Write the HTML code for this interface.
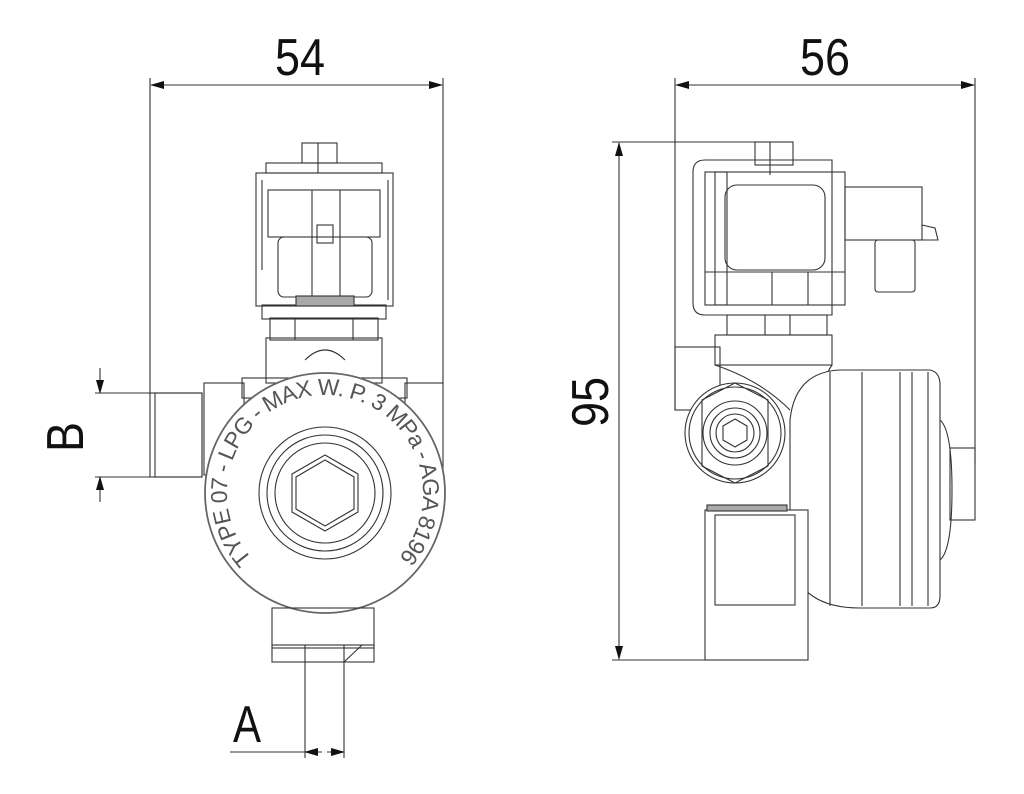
<!DOCTYPE html>
<html><head><meta charset="utf-8"><style>html,body{margin:0;padding:0;background:#fff}svg{display:block}</style></head>
<body>
<svg width="1024" height="794" viewBox="0 0 1024 794" xmlns="http://www.w3.org/2000/svg">
<defs>
<marker id="ar" markerWidth="14" markerHeight="8" refX="13" refY="4" orient="auto-start-reverse" markerUnits="userSpaceOnUse"><path d="M0,0 L14,4 L0,8 z" fill="#111"/></marker>
<path id="ring" d="M 255.7,562.3 A 98,98 0 1 1 394.3,562.3"/>
</defs>
<g fill="none" stroke="#333" stroke-width="1.1">
<line x1="150" y1="78" x2="150" y2="393"/>
<line x1="443" y1="78" x2="443" y2="385"/>
<line x1="151" y1="85" x2="442" y2="85" marker-start="url(#ar)" marker-end="url(#ar)"/>
<line x1="95" y1="393" x2="150" y2="393"/>
<line x1="95" y1="477" x2="152" y2="477"/>
<line x1="100" y1="368" x2="100" y2="393" marker-end="url(#ar)"/>
<line x1="100" y1="502" x2="100" y2="477" marker-end="url(#ar)"/>
<line x1="305" y1="662" x2="305" y2="758"/>
<line x1="344" y1="662" x2="344" y2="758"/>
<line x1="230" y1="752" x2="305" y2="752"/>
<line x1="305" y1="752" x2="322" y2="752" marker-start="url(#ar)"/>
<line x1="327" y1="752" x2="344" y2="752" marker-end="url(#ar)"/>
<rect x="150" y="393" width="52" height="84"/>
<rect x="155" y="393" width="47" height="84"/>
<rect x="204" y="383" width="40" height="92"/>
<rect x="405" y="383" width="38" height="92"/>
<rect x="242" y="378" width="165" height="20"/>
<rect x="266" y="338" width="116" height="45"/>
<path d="M305,360 Q325,340 345,360"/>
<rect x="270" y="318" width="108" height="22"/>
<line x1="295" y1="318" x2="295" y2="340"/><line x1="353" y1="318" x2="353" y2="340"/>
<rect x="262" y="305" width="124" height="14"/>
<rect x="256" y="173" width="137" height="133"/>
<rect x="266" y="163" width="116" height="10"/>
<rect x="302" y="143" width="35" height="20"/>
<line x1="318" y1="143" x2="318" y2="173"/>
<rect x="268" y="190" width="112" height="47"/>
<rect x="278" y="237" width="94" height="60" rx="6"/>
<line x1="312" y1="190" x2="312" y2="297"/><line x1="340" y1="190" x2="340" y2="297"/>
<rect x="317" y="225" width="16" height="18"/>
<line x1="262" y1="180" x2="262" y2="270"/><line x1="388" y1="180" x2="388" y2="300"/>
<rect x="296" y="296" width="58" height="10" fill="#aaa"/>
<circle cx="325" cy="493" r="120" fill="#fff" stroke-width="1.8" stroke="#666"/>
<circle cx="325" cy="493" r="66"/>
<circle cx="325" cy="493" r="58"/>
<circle cx="325" cy="493" r="50"/>
<polygon points="325,455 358,474 358,512 325,531 292,512 292,474"/>
<polygon points="325,460 354,477 354,509 325,526 296,509 296,477"/>
<rect x="272" y="608" width="102" height="40"/>
<rect x="272" y="645" width="102" height="17"/>
<line x1="305" y1="645" x2="305" y2="662"/><line x1="344" y1="645" x2="344" y2="662"/>
<line x1="344" y1="662" x2="362" y2="645"/>
<line x1="675" y1="78" x2="675" y2="410"/>
<line x1="975" y1="78" x2="975" y2="465"/>
<line x1="676" y1="85" x2="974" y2="85" marker-start="url(#ar)" marker-end="url(#ar)"/>
<line x1="612" y1="142" x2="770" y2="142"/>
<line x1="612" y1="660" x2="705" y2="660"/>
<line x1="619" y1="143" x2="619" y2="659" marker-start="url(#ar)" marker-end="url(#ar)"/>
<rect x="755" y="142" width="38" height="23"/>
<line x1="770" y1="142" x2="770" y2="175"/>
<path d="M705,160 H832 V315 H705 Q693,315 693,303 V172 Q693,160 705,160 Z"/>
<rect x="705" y="172" width="140" height="133"/>
<rect x="715" y="172" width="12" height="133"/>
<rect x="725" y="185" width="100" height="85" rx="12"/>
<line x1="705" y1="272" x2="845" y2="272"/>
<line x1="772" y1="272" x2="772" y2="305"/><line x1="808" y1="272" x2="808" y2="305"/>
<rect x="845" y="187" width="77" height="53"/>
<rect x="875" y="240" width="40" height="52" rx="3"/>
<path d="M922,225 L935,228 L938,240 L922,240"/>
<rect x="727" y="315" width="100" height="20"/>
<line x1="765" y1="315" x2="765" y2="335"/><line x1="790" y1="315" x2="790" y2="335"/>
<rect x="715" y="335" width="117" height="30"/>
<rect x="675" y="347" width="45" height="63"/>
<path d="M715,365 Q760,380 790,410"/>
<path d="M832,365 Q818,385 825,420 L860,380"/>
<path d="M840,370 H930 Q940,372 940,385 V596 Q940,608 930,608 H860 Q800,608 790,560 V420 Q795,372 840,370 Z" fill="#fff"/>
<line x1="830" y1="372" x2="830" y2="606"/><line x1="862" y1="372" x2="862" y2="606"/>
<line x1="900" y1="372" x2="900" y2="606"/><line x1="912" y1="372" x2="912" y2="606"/><line x1="928" y1="372" x2="928" y2="606"/>
<path d="M940,420 Q952,430 952,490 Q952,550 940,560"/>
<rect x="950" y="448" width="25" height="72"/>
<rect x="705" y="510" width="103" height="150" fill="#fff"/>
<rect x="715" y="515" width="80" height="90"/>
<rect x="707" y="505" width="80" height="6" fill="#aaa"/>
<circle cx="735" cy="433" r="50" fill="#fff"/>
<circle cx="735" cy="433" r="46"/>
<polygon points="735,383 768,400 768,466 735,483 702,466 702,400"/>
<circle cx="735" cy="433" r="32"/>
<circle cx="735" cy="433" r="25"/>
<circle cx="735" cy="433" r="19"/>
<polygon points="735,419 747,426 747,440 735,447 723,440 723,426"/>
</g>
<g font-family="Liberation Sans, sans-serif" fill="#111">
<text x="300" y="75" font-size="52" text-anchor="middle" textLength="50" lengthAdjust="spacingAndGlyphs">54</text>
<text x="825" y="75" font-size="52" text-anchor="middle" textLength="50" lengthAdjust="spacingAndGlyphs">56</text>
<text x="247" y="742" font-size="52" text-anchor="middle" textLength="28" lengthAdjust="spacingAndGlyphs">A</text>
<text transform="translate(83,437) rotate(-90)" font-size="52" text-anchor="middle" textLength="30" lengthAdjust="spacingAndGlyphs">B</text>
<text transform="translate(608,402) rotate(-90)" font-size="52" text-anchor="middle" textLength="50" lengthAdjust="spacingAndGlyphs">95</text>
<text font-size="23" fill="#555"><textPath href="#ring" startOffset="1%" textLength="450" lengthAdjust="spacing">TYPE 07 - LPG - MAX W. P. 3 MPa - AGA 8196</textPath></text>
</g>
</svg>
</body></html>
